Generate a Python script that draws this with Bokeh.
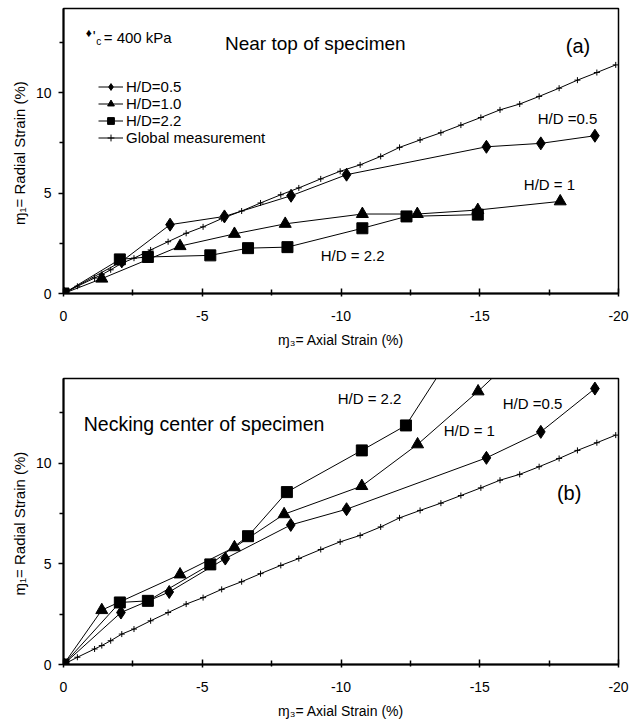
import math
from bokeh.plotting import figure
from bokeh.models import Range1d, FixedTicker, Label, Legend, LegendItem
from bokeh.layouts import column
from bokeh.embed import file_html
from bokeh.resources import INLINE

# ---------------- data ----------------
x_ticks = [0, -5, -10, -15, -20]
x_minor = [-2.5, -7.5, -12.5, -17.5]
y_ticks = [0, 5, 10]
y_minor = [2.5, 7.5, 12.5]

global_x = [0, -0.5, -1.12, -1.38, -1.70, -2.10, -2.54, -3.14, -3.77, -4.42, -5.03, -5.70,
            -6.42, -7.10, -7.83, -8.48, -9.27, -9.97, -10.69, -11.43, -12.11, -12.85, -13.6,
            -14.32, -15.04, -15.73, -16.44, -17.14, -17.86, -18.52, -19.22, -19.9]
global_y = [0, 0.36, 0.77, 0.94, 1.18, 1.51, 1.76, 2.17, 2.58, 3.0, 3.32, 3.73,
            4.11, 4.51, 4.92, 5.26, 5.71, 6.09, 6.41, 6.83, 7.28, 7.65, 8.01,
            8.39, 8.77, 9.15, 9.44, 9.82, 10.23, 10.63, 11.01, 11.39]

# (a) near top of specimen
top_hd05_x = [0, -2.1, -3.84, -5.8, -8.2, -10.2, -15.24, -17.2, -19.15]
top_hd05_y = [0, 1.6, 3.43, 3.84, 4.87, 5.92, 7.31, 7.48, 7.86]
top_hd10_x = [0, -1.38, -4.2, -6.16, -7.99, -10.77, -12.75, -14.93, -17.9]
top_hd10_y = [0, 0.74, 2.36, 2.97, 3.47, 3.96, 3.96, 4.16, 4.59]
top_hd22_x = [0, -2.03, -3.04, -5.29, -6.65, -8.07, -10.77, -12.36, -14.93]
top_hd22_y = [0, 1.70, 1.82, 1.90, 2.26, 2.31, 3.25, 3.84, 3.93]

# (b) necking center of specimen
bot_hd05_x = [0, -2.07, -3.81, -5.83, -8.19, -10.2, -15.24, -17.2, -19.15]
bot_hd05_y = [0, 2.58, 3.6, 5.26, 6.93, 7.71, 10.26, 11.55, 13.7]
bot_hd10_x = [0, -1.38, -4.2, -6.16, -7.95, -10.75, -12.76, -14.94, -17.9]
bot_hd10_y = [0, 2.70, 4.47, 5.82, 7.46, 8.86, 10.93, 13.56, 17.4]
bot_hd22_x = [0, -2.03, -3.04, -5.29, -6.65, -8.05, -10.75, -12.34, -14.93]
bot_hd22_y = [0, 3.08, 3.16, 4.97, 6.37, 8.56, 10.63, 11.87, 17.4]

series_labels = ["H/D=0.5", "H/D=1.0", "H/D=2.2", "Global measurement"]

FONT = "Liberation Sans"
X_TITLE = "ɱ₃= Axial Strain (%)"
Y_TITLE = "ɱ₁= Radial  Strain (%)"


def make_fig(border_top, border_bottom, frame_h):
    p = figure(frame_width=555, frame_height=frame_h,
               x_range=Range1d(0, -20), y_range=Range1d(0, 14.2),
               output_backend="svg", toolbar_location=None,
               min_border_left=63, min_border_right=13,
               min_border_top=border_top, min_border_bottom=border_bottom,
               background_fill_color="white", border_fill_color="white")
    p.xgrid.visible = False
    p.ygrid.visible = False
    p.outline_line_color = "black"
    p.outline_line_width = 1.5
    p.outline_line_alpha = 1

    xa = p.xaxis[0]
    xa.ticker = FixedTicker(ticks=x_ticks, minor_ticks=x_minor)
    xa.major_label_overrides = {t: str(t) for t in x_ticks}
    xa.axis_line_width = 2
    xa.major_tick_line_width = 1.5
    xa.minor_tick_line_width = 1.5
    xa.major_tick_in = 5
    xa.major_tick_out = 3
    xa.minor_tick_in = 4
    xa.minor_tick_out = 2
    xa.major_label_standoff = 14
    xa.major_label_text_font = FONT
    xa.major_label_text_font_size = "14px"
    xa.major_label_text_color = "black"
    xa.axis_label = X_TITLE
    xa.axis_label_text_font = FONT
    xa.axis_label_text_font_size = "14px"
    xa.axis_label_text_font_style = "normal"
    xa.axis_label_text_color = "black"
    xa.axis_label_standoff = 8

    ya = p.yaxis[0]
    ya.ticker = FixedTicker(ticks=y_ticks, minor_ticks=y_minor)
    ya.axis_line_width = 2
    ya.major_tick_line_width = 1.5
    ya.minor_tick_line_width = 1.5
    ya.major_tick_in = 0
    ya.major_tick_out = 5
    ya.minor_tick_in = 0
    ya.minor_tick_out = 4
    ya.major_label_standoff = 7
    ya.major_label_text_font = FONT
    ya.major_label_text_font_size = "14px"
    ya.major_label_text_color = "black"
    ya.axis_label = Y_TITLE
    ya.axis_label_text_font = FONT
    ya.axis_label_text_font_size = "15px"
    ya.axis_label_text_font_style = "normal"
    ya.axis_label_text_color = "black"
    ya.axis_label_standoff = 5
    return p


def add_series(p, hd05, hd10, hd22):
    items = []
    l1 = p.line(hd05[0], hd05[1], line_color="black", line_width=1)
    s1 = p.scatter(hd05[0], hd05[1], marker="diamond", size=13,
                   fill_color="black", line_color="black")
    items.append(LegendItem(label=series_labels[0], renderers=[l1, s1]))
    l2 = p.line(hd10[0], hd10[1], line_color="black", line_width=1)
    s2 = p.scatter(hd10[0], hd10[1], marker="triangle", size=12,
                   fill_color="black", line_color="black")
    items.append(LegendItem(label=series_labels[1], renderers=[l2, s2]))
    l3 = p.line(hd22[0], hd22[1], line_color="black", line_width=1)
    s3 = p.scatter(hd22[0], hd22[1], marker="square", size=11,
                   fill_color="black", line_color="black")
    items.append(LegendItem(label=series_labels[2], renderers=[l3, s3]))
    l4 = p.line(global_x, global_y, line_color="black", line_width=1)
    s4 = p.scatter(global_x, global_y, marker="cross", size=6,
                   line_color="black", line_width=1)
    items.append(LegendItem(label=series_labels[3], renderers=[l4, s4]))
    return items


def lab(p, x, y, text, size="15px", align="left", baseline="middle"):
    p.add_layout(Label(x=x, y=y, text=text, text_font=FONT, text_font_size=size,
                       text_align=align, text_baseline=baseline, text_color="black"))


# ---------------- panel (a) ----------------
p1 = make_fig(8, 62, 285)
items = add_series(p1, (top_hd05_x, top_hd05_y), (top_hd10_x, top_hd10_y),
                   (top_hd22_x, top_hd22_y))
legend = Legend(items=items, location=(35, 147), orientation="vertical",
                label_text_font=FONT, label_text_font_size="15px",
                label_text_color="black",
                glyph_width=25, glyph_height=17, label_height=17, label_standoff=3,
                spacing=0, padding=0, margin=0,
                border_line_alpha=0, background_fill_alpha=0)
p1.add_layout(legend)

lab(p1, -0.91, 13.0, "♦", size="12px", align="center")
lab(p1, -1.05, 12.85, "'", size="15px")
lab(p1, -1.18, 12.55, "c", size="10px")
lab(p1, -1.45, 12.77, "= 400 kPa", size="15px")
lab(p1, -5.82, 12.44, "Near top of specimen", size="19px")
lab(p1, -18.1, 12.34, "(a)", size="20px")
lab(p1, -17.09, 8.71, "H/D =0.5")
lab(p1, -16.59, 5.42, "H/D = 1")
lab(p1, -9.27, 1.89, "H/D = 2.2")

# ---------------- panel (b) ----------------
p2 = make_fig(23, 61, 286)
add_series(p2, (bot_hd05_x, bot_hd05_y), (bot_hd10_x, bot_hd10_y),
           (bot_hd22_x, bot_hd22_y))
lab(p2, -0.73, 11.93, "Necking center of specimen", size="19.5px")
lab(p2, -9.88, 13.22, "H/D = 2.2")
lab(p2, -15.83, 12.97, "H/D =0.5")
lab(p2, -13.70, 11.63, "H/D = 1")
lab(p2, -17.78, 8.51, "(b)", size="20px")

layout = column(p1, p2, spacing=0)
open("out.html", "w").write(file_html(layout, INLINE))
